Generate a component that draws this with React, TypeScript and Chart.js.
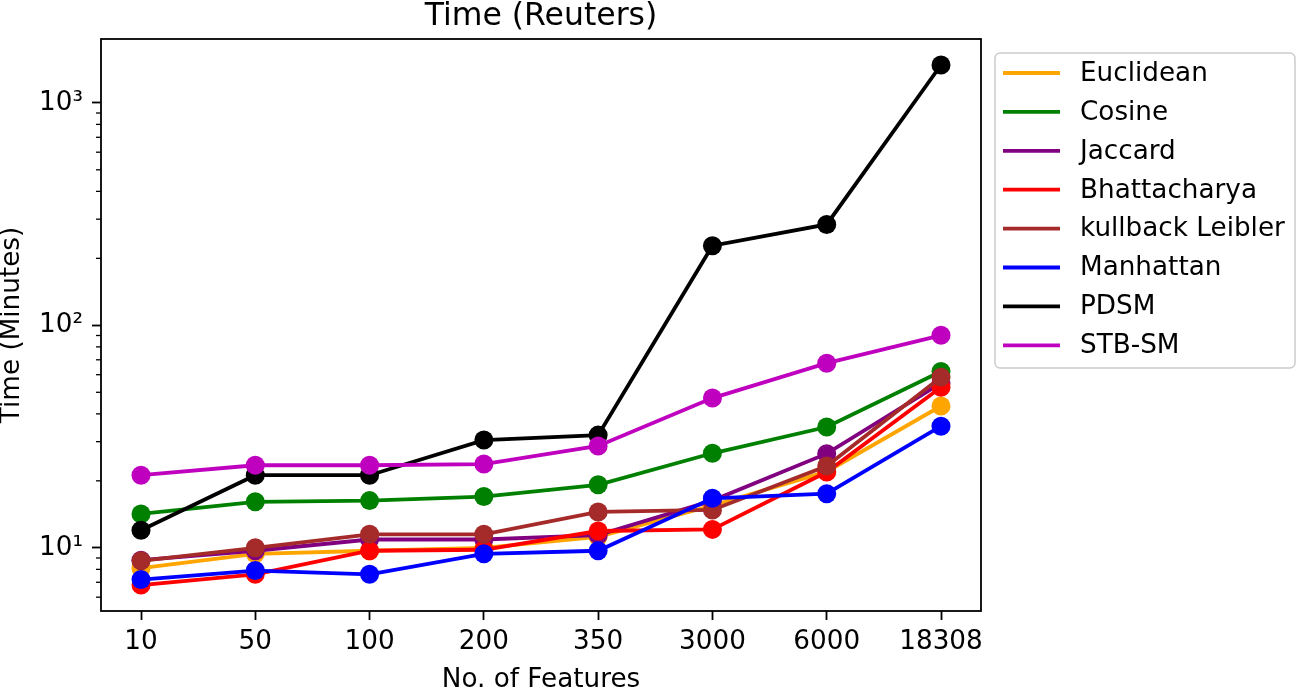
import React, { useEffect, useRef } from "react";
import { Chart, registerables } from "chart.js";

Chart.register(...registerables);

const categories = ["10", "50", "100", "200", "350", "3000", "6000", "18308"];

const euclidean = [8.1, 9.4, 9.7, 10.0, 11.2, 15.5, 22.0, 43.4];
const cosine = [14.2, 16.1, 16.3, 17.0, 19.2, 26.6, 34.9, 62.0];
const jaccard = [8.8, 9.7, 10.9, 10.9, 11.4, 16.3, 26.5, 55.0];
const bhattacharya = [6.8, 7.6, 9.7, 9.8, 11.9, 12.1, 21.9, 52.7];
const kullbackLeibler = [8.74, 10.0, 11.5, 11.5, 14.5, 14.8, 23.3, 58.5];
const manhattan = [7.2, 7.9, 7.6, 9.4, 9.7, 16.7, 17.5, 35.2];
const pdsm = [12.0, 21.2, 21.2, 30.5, 32.1, 228, 284, 1479];
const stbsm = [21.2, 23.5, 23.5, 23.8, 28.7, 47.1, 67.6, 90.2];

const seriesNames = [
  "Euclidean",
  "Cosine",
  "Jaccard",
  "Bhattacharya",
  "kullback Leibler",
  "Manhattan",
  "PDSM",
  "STB-SM",
];
const seriesColors = [
  "#FFA500",
  "#008000",
  "#800080",
  "#FF0000",
  "#A52A2A",
  "#0000FF",
  "#000000",
  "#BF00BF",
];
const seriesValues = [
  euclidean,
  cosine,
  jaccard,
  bhattacharya,
  kullbackLeibler,
  manhattan,
  pdsm,
  stbsm,
];

const yMajorTicks = [10, 100, 1000];
const yMajorLabels = ["10¹", "10²", "10³"];
const yMinorTicks = [6, 7, 8, 9, 20, 30, 40, 50, 60, 70, 80, 90, 200, 300, 400, 500, 600, 700, 800, 900];

const titleText = "Time (Reuters)";
const xTitle = "No. of Features";
const yTitle = "Time (Minutes)";

const FONT = "'DejaVu Sans', sans-serif";
const BASE = 26.25;

const decorPlugin = {
  id: "decor",
  afterDraw(chart: any) {
    const ctx = chart.ctx;
    const { left, right, top, bottom } = chart.chartArea;
    ctx.save();
    const ys = chart.scales.y;
    ctx.strokeStyle = "#000";
    ctx.lineWidth = 1.3;
    yMinorTicks.forEach((v) => {
      const y = ys.getPixelForValue(v);
      if (y < top || y > bottom) return;
      ctx.beginPath();
      ctx.moveTo(left, y);
      ctx.lineTo(left - 5, y);
      ctx.stroke();
    });
    ctx.lineWidth = 1.8;
    ctx.strokeRect(left, top, right - left, bottom - top);
    ctx.fillStyle = "#000";
    ctx.font = `31.5px ${FONT}`;
    ctx.textAlign = "center";
    ctx.textBaseline = "alphabetic";
    ctx.fillText(titleText, (left + right) / 2, 25);
    const lx = 995, ly = 53, lw = 300, lh = 315;
    ctx.beginPath();
    (ctx as any).roundRect(lx, ly, lw, lh, 5);
    ctx.fillStyle = "rgba(255,255,255,0.8)";
    ctx.fill();
    ctx.strokeStyle = "#cccccc";
    ctx.lineWidth = 1.5;
    ctx.stroke();
    ctx.font = `${BASE}px ${FONT}`;
    ctx.textAlign = "left";
    ctx.textBaseline = "middle";
    seriesNames.forEach((name, i) => {
      const y = 73 + i * 38.9;
      ctx.strokeStyle = seriesColors[i];
      ctx.lineWidth = 3.8;
      ctx.beginPath();
      ctx.moveTo(1003, y);
      ctx.lineTo(1060, y);
      ctx.stroke();
      ctx.fillStyle = "#000";
      ctx.fillText(name, 1080, y + 1);
    });
    ctx.restore();
  },
};

export default function App() {
  const canvasRef = useRef<HTMLCanvasElement | null>(null);

  useEffect(() => {
    if (!canvasRef.current) return;
    Chart.defaults.font.family = FONT;
    const n = seriesNames.length;
    const chart = new Chart(canvasRef.current, {
      type: "line",
      data: {
        datasets: seriesNames.map((name, i) => ({
          label: name,
          data: seriesValues[i].map((v, j) => ({ x: j, y: v })),
          borderColor: seriesColors[i],
          backgroundColor: seriesColors[i],
          pointBackgroundColor: seriesColors[i],
          pointBorderColor: seriesColors[i],
          pointBorderWidth: 0,
          pointRadius: 9.5,
          borderWidth: 3.8,
          tension: 0,
          fill: false,
          order: n - i,
        })),
      },
      options: {
        responsive: false,
        animation: false,
        layout: { padding: { top: 39, right: 317, left: 0, bottom: 0 } },
        plugins: {
          legend: { display: false },
          title: { display: false },
          tooltip: { enabled: false },
        },
        scales: {
          x: {
            type: "linear",
            min: -0.35,
            max: 7.35,
            afterBuildTicks: (scale: any) => {
              scale.ticks = categories.map((_, i) => ({ value: i }));
            },
            afterFit: (scale: any) => {
              scale.height = 77;
            },
            ticks: {
              color: "#000",
              font: { size: BASE, family: FONT },
              padding: 6,
              maxRotation: 0,
              autoSkip: false,
              callback: (v: any) => categories[Math.round(Number(v))] ?? "",
            },
            grid: {
              display: true,
              drawOnChartArea: false,
              drawTicks: true,
              tickLength: 9,
              tickWidth: 1.8,
              tickColor: "#000",
            },
            border: { display: false },
            title: {
              display: true,
              text: xTitle,
              color: "#000",
              font: { size: BASE, family: FONT, lineHeight: 0.6 },
              padding: { top: 0, bottom: 0 },
            },
          },
          y: {
            type: "logarithmic",
            min: 5.2,
            max: 1936,
            afterBuildTicks: (scale: any) => {
              scale.ticks = yMajorTicks.map((v) => ({ value: v }));
            },
            afterFit: (scale: any) => {
              scale.width = 101;
            },
            ticks: {
              color: "#000",
              font: { size: BASE, family: FONT },
              padding: 9,
              autoSkip: false,
              callback: (v: any) => {
                const idx = yMajorTicks.indexOf(Number(v));
                return idx >= 0 ? yMajorLabels[idx] : "";
              },
            },
            grid: {
              display: true,
              drawOnChartArea: false,
              drawTicks: true,
              tickLength: 9,
              tickWidth: 1.8,
              tickColor: "#000",
            },
            border: { display: false },
            title: {
              display: true,
              text: yTitle,
              color: "#000",
              font: { size: BASE, family: FONT, lineHeight: 0.95 },
              padding: { top: 0, bottom: 0 },
            },
          },
        },
      },
      plugins: [decorPlugin],
    });
    return () => chart.destroy();
  }, []);

  return (
    <div style={{ position: "absolute", left: 0, top: 0, width: 1298, height: 688, background: "#fff" }}>
      <canvas ref={canvasRef} width={1298} height={688} style={{ display: "block" }} />
    </div>
  );
}
